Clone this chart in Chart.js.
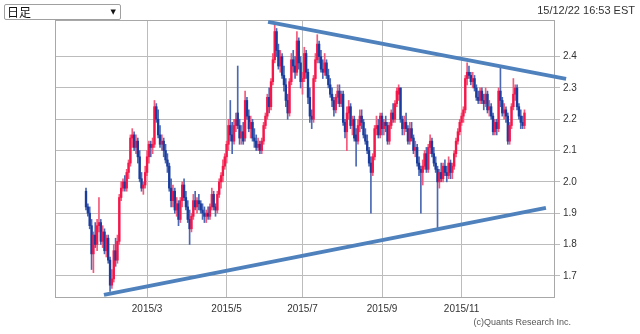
<!DOCTYPE html>
<html>
<head>
<meta charset="utf-8">
<script src="https://cdn.jsdelivr.net/npm/chart.js@4.4.0/dist/chart.umd.min.js"></script>
<style>
  html, body { margin: 0; padding: 0; background: #fff; }
  #wrap { position: relative; width: 640px; height: 334px; overflow: hidden; font-family: "Liberation Sans", Arial, sans-serif; }
  #chart { position: absolute; left: 0; top: 0; }
  .sel { position: absolute; left: 4px; top: 4px; width: 115px; height: 14px; border: 1px solid #a0a0a0; border-radius: 2px; background: #fff; }
  .sel span { position: absolute; left: 2px; top: -1px; font-family: "Noto Sans CJK JP", sans-serif; font-size: 12px; line-height: 16px; color: #111; }
  .sel i { position: absolute; right: 4px; top: 0px; font-style: normal; font-family: "DejaVu Sans", sans-serif; font-size: 7px; line-height: 14px; color: #111; }
  .stamp { position: absolute; right: 5px; top: 4px; font-size: 11px; color: #333; }
  .copy { position: absolute; right: 69px; top: 317px; font-size: 9px; color: #555; }
</style>
</head>
<body>
<div id="wrap">
  <canvas id="chart" width="640" height="334"></canvas>
  <div class="sel"><span>日足</span><i>▼</i></div>
  <div class="stamp">15/12/22 16:53 EST</div>
  <div class="copy">(c)Quants Research Inc.</div>
</div>
<script>
// daily candles, 2015-01-12 .. 2015-12-22 (index = trading day)
const open = [
  1.97,1.92,1.90,1.86,1.77,1.83,1.80,1.86,1.87,1.81,
  1.84,1.78,1.82,1.75,1.67,1.69,1.78,1.75,1.81,1.95,
  1.98,2.00,1.98,2.03,2.06,2.14,2.15,2.11,2.13,2.08,
  2.01,1.98,1.99,2.03,2.08,2.12,2.11,2.12,2.24,2.20,
  2.15,2.12,2.13,2.10,2.07,2.05,1.98,1.94,1.97,1.91,
  1.93,1.88,1.94,1.99,1.95,1.92,1.88,1.85,1.89,1.94,
  1.92,1.94,1.93,1.91,1.90,1.89,1.90,1.89,1.92,1.96,
  1.92,1.91,1.96,2.00,2.02,2.05,2.08,2.12,2.18,2.15,
  2.13,2.18,2.22,2.18,2.14,2.16,2.14,2.26,2.21,2.17,
  2.19,2.14,2.13,2.11,2.12,2.10,2.13,2.18,2.21,2.27,
  2.24,2.32,2.39,2.48,2.42,2.37,2.40,2.34,2.31,2.26,
  2.22,2.32,2.39,2.37,2.35,2.45,2.38,2.32,2.33,2.41,
  2.35,2.27,2.21,2.20,2.33,2.39,2.44,2.40,2.36,2.35,
  2.38,2.34,2.31,2.28,2.26,2.23,2.27,2.29,2.25,2.28,
  2.19,2.16,2.22,2.24,2.18,2.20,2.15,2.13,2.18,2.21,
  2.19,2.15,2.13,2.10,2.06,2.03,2.08,2.17,2.18,2.15,
  2.21,2.17,2.19,2.18,2.13,2.18,2.22,2.20,2.25,2.28,
  2.30,2.20,2.17,2.19,2.17,2.13,2.17,2.14,2.10,2.11,
  2.06,2.04,2.03,2.05,2.09,2.04,2.11,2.13,2.09,2.06,
  2.04,2.00,2.03,2.01,2.05,2.03,2.02,2.06,2.03,2.05,
  2.09,2.13,2.16,2.19,2.21,2.23,2.33,2.35,2.34,2.32,
  2.33,2.30,2.27,2.26,2.29,2.26,2.25,2.28,2.23,2.24,
  2.21,2.16,2.19,2.17,2.29,2.26,2.22,2.23,2.21,2.13,
  2.18,2.24,2.28,2.30,2.24,2.21,2.19,2.18
];
const high = [
  1.98,1.93,1.92,1.88,1.84,1.87,1.88,1.95,1.88,1.86,
  1.85,1.83,1.83,1.76,1.72,1.80,1.82,1.83,1.96,2.00,
  2.01,2.02,2.04,2.07,2.15,2.17,2.16,2.15,2.14,2.10,
  2.03,2.00,2.05,2.10,2.13,2.13,2.14,2.26,2.25,2.23,
  2.18,2.15,2.14,2.12,2.09,2.06,2.01,1.99,1.98,1.95,
  1.94,1.95,2.00,2.01,1.97,1.94,1.91,1.90,1.96,1.97,
  1.95,1.96,1.94,1.93,1.92,1.91,1.92,1.93,1.98,1.97,
  1.93,1.97,2.01,2.03,2.07,2.09,2.13,2.20,2.26,2.19,
  2.20,2.22,2.37,2.20,2.18,2.19,2.29,2.27,2.23,2.21,
  2.20,2.17,2.15,2.14,2.13,2.14,2.19,2.22,2.28,2.30,
  2.33,2.41,2.50,2.49,2.44,2.42,2.41,2.37,2.33,2.28,
  2.33,2.41,2.42,2.40,2.48,2.46,2.40,2.35,2.43,2.42,
  2.36,2.30,2.23,2.34,2.41,2.47,2.45,2.42,2.39,2.41,
  2.39,2.36,2.33,2.30,2.27,2.28,2.31,2.31,2.29,2.29,
  2.20,2.24,2.26,2.25,2.21,2.21,2.17,2.20,2.23,2.23,
  2.20,2.17,2.15,2.11,2.08,2.09,2.18,2.21,2.20,2.22,
  2.22,2.20,2.21,2.19,2.19,2.23,2.25,2.26,2.30,2.31,
  2.30,2.21,2.21,2.22,2.18,2.19,2.19,2.15,2.13,2.12,
  2.08,2.05,2.07,2.10,2.11,2.12,2.15,2.14,2.11,2.08,
  2.05,2.04,2.06,2.06,2.07,2.05,2.08,2.07,2.06,2.10,
  2.14,2.17,2.20,2.22,2.24,2.34,2.38,2.37,2.35,2.35,
  2.34,2.31,2.29,2.30,2.30,2.28,2.30,2.29,2.26,2.25,
  2.22,2.20,2.20,2.30,2.37,2.27,2.25,2.24,2.22,2.19,
  2.25,2.33,2.31,2.31,2.25,2.23,2.21,2.23
];
const low = [
  1.91,1.89,1.85,1.72,1.71,1.79,1.78,1.84,1.80,1.79,
  1.77,1.76,1.74,1.65,1.66,1.68,1.73,1.74,1.80,1.94,
  1.97,1.97,1.97,2.01,2.05,2.11,2.10,2.09,2.06,2.00,
  1.97,1.96,1.98,2.02,2.06,2.08,2.09,2.11,2.19,2.14,
  2.11,2.10,2.08,2.06,2.03,1.97,1.92,1.92,1.90,1.89,
  1.86,1.87,1.92,1.94,1.91,1.87,1.80,1.84,1.88,1.91,
  1.90,1.91,1.90,1.88,1.87,1.87,1.88,1.88,1.91,1.91,
  1.89,1.90,1.95,1.98,2.00,2.04,2.06,2.10,2.13,2.09,
  2.12,2.16,2.17,2.12,2.12,2.12,2.13,2.20,2.16,2.14,
  2.13,2.11,2.10,2.10,2.09,2.09,2.12,2.17,2.20,2.22,
  2.23,2.31,2.38,2.40,2.36,2.35,2.33,2.29,2.24,2.20,
  2.21,2.31,2.35,2.33,2.34,2.36,2.30,2.28,2.32,2.33,
  2.25,2.19,2.17,2.19,2.32,2.38,2.38,2.35,2.33,2.34,
  2.33,2.30,2.27,2.24,2.21,2.22,2.25,2.24,2.24,2.18,
  2.14,2.10,2.20,2.17,2.15,2.13,2.05,2.12,2.16,2.17,
  2.14,2.12,2.09,2.05,1.90,2.02,2.07,2.15,2.14,2.14,
  2.15,2.15,2.16,2.12,2.12,2.17,2.19,2.19,2.24,2.26,
  2.19,2.15,2.15,2.16,2.12,2.12,2.13,2.09,2.08,2.05,
  2.02,1.90,1.99,2.04,2.03,2.03,2.09,2.08,2.05,2.03,
  1.85,1.98,2.00,2.00,2.02,2.00,2.01,2.01,2.01,2.04,
  2.08,2.12,2.15,2.18,2.19,2.22,2.31,2.33,2.31,2.30,
  2.29,2.26,2.25,2.25,2.25,2.23,2.24,2.22,2.21,2.20,
  2.15,2.15,2.15,2.16,2.24,2.21,2.20,2.19,2.12,2.12,
  2.17,2.23,2.26,2.23,2.20,2.17,2.17,2.17
];
const close = [
  1.92,1.90,1.86,1.77,1.83,1.80,1.86,1.87,1.81,1.84,
  1.78,1.82,1.75,1.67,1.69,1.78,1.75,1.81,1.95,1.98,
  2.00,1.98,2.03,2.06,2.14,2.15,2.11,2.13,2.08,2.01,
  1.98,1.99,2.03,2.08,2.12,2.11,2.12,2.24,2.20,2.15,
  2.12,2.13,2.10,2.07,2.05,1.98,1.94,1.97,1.91,1.93,
  1.88,1.94,1.99,1.95,1.92,1.88,1.85,1.89,1.94,1.92,
  1.94,1.93,1.91,1.90,1.89,1.90,1.89,1.92,1.96,1.92,
  1.91,1.96,2.00,2.02,2.05,2.08,2.12,2.18,2.15,2.13,
  2.18,2.20,2.18,2.14,2.16,2.13,2.26,2.21,2.17,2.19,
  2.14,2.13,2.11,2.12,2.10,2.13,2.18,2.21,2.27,2.24,
  2.32,2.39,2.48,2.42,2.37,2.40,2.34,2.31,2.26,2.22,
  2.32,2.39,2.37,2.35,2.45,2.38,2.32,2.33,2.41,2.35,
  2.27,2.21,2.20,2.33,2.39,2.44,2.40,2.36,2.35,2.38,
  2.34,2.31,2.28,2.26,2.23,2.27,2.29,2.25,2.28,2.19,
  2.16,2.22,2.24,2.18,2.20,2.14,2.13,2.18,2.21,2.19,
  2.15,2.13,2.10,2.06,2.03,2.08,2.17,2.18,2.15,2.21,
  2.17,2.19,2.18,2.13,2.18,2.22,2.20,2.25,2.29,2.30,
  2.20,2.17,2.19,2.17,2.13,2.17,2.14,2.10,2.11,2.06,
  2.04,2.03,2.05,2.09,2.04,2.11,2.13,2.09,2.06,2.04,
  2.00,2.03,2.01,2.05,2.03,2.02,2.06,2.03,2.05,2.09,
  2.13,2.16,2.19,2.21,2.23,2.33,2.35,2.34,2.32,2.33,
  2.30,2.27,2.26,2.29,2.26,2.25,2.28,2.23,2.24,2.21,
  2.16,2.19,2.17,2.29,2.26,2.22,2.23,2.21,2.13,2.18,
  2.24,2.28,2.30,2.24,2.21,2.19,2.18,2.22
];

// month gridlines (trading-day index of first session) and their labels
const monthTicks = [33, 76, 117, 160, 203];
const monthLabels = ['2015/3', '2015/5', '2015/7', '2015/9', '2015/11'];
const yTicks = [1.7, 1.8, 1.9, 2.0, 2.1, 2.2, 2.3, 2.4];

// hand-drawn trendlines: [start, end] in (day index, yield)
const upperTrendX = [98.4, 259.5];
const upperTrendY = [2.511, 2.329];
const lowerTrendX = [9.7, 248.6];
const lowerTrendY = [1.639, 1.917];

const upColor = '#f5164a';
const downColor = '#1a3c9c';
const upWick = '#f4587a';
const downWick = '#4a68b4';
const trendColor = '#4f81bd';

const isUp = i => close[i] >= open[i];
const bodyColor = c => isUp(c.dataIndex) ? upColor : downColor;
const wickColor = c => isUp(c.dataIndex) ? upWick : downWick;

// draws the box around the plot area
const framePlugin = {
  id: 'frame',
  beforeDatasetsDraw(chart) {
    const { ctx, chartArea: a } = chart;
    ctx.save();
    ctx.strokeStyle = '#a8a8a8';
    ctx.lineWidth = 1;
    ctx.strokeRect(a.left + 0.5, a.top + 0.5, a.width - 1, a.height - 1);
    ctx.restore();
  }
};

const tickFont = { family: '"Liberation Sans", Arial, sans-serif', size: 10 };

new Chart(document.getElementById('chart').getContext('2d'), {
  type: 'bar',
  data: {
    datasets: [
      {
        label: 'wick',
        data: close.map((_, i) => ({ x: i, y: [low[i], high[i]] })),
        backgroundColor: wickColor,
        barThickness: 1,
        grouped: false,
        order: 3
      },
      {
        label: 'body',
        data: close.map((_, i) => ({ x: i, y: [open[i], close[i]] })),
        backgroundColor: bodyColor,
        barThickness: 1.7,
        minBarLength: 1,
        grouped: false,
        order: 2
      },
      {
        type: 'line',
        data: upperTrendX.map((x, i) => ({ x, y: upperTrendY[i] })),
        borderColor: trendColor,
        borderWidth: 4,
        pointRadius: 0,
        clip: false,
        order: 1
      },
      {
        type: 'line',
        data: lowerTrendX.map((x, i) => ({ x, y: lowerTrendY[i] })),
        borderColor: trendColor,
        borderWidth: 4,
        pointRadius: 0,
        clip: false,
        order: 1
      }
    ]
  },
  options: {
    responsive: false,
    animation: false,
    devicePixelRatio: 1,
    layout: { padding: { left: 55, top: 20, right: 0, bottom: 0 } },
    plugins: {
      legend: { display: false },
      tooltip: { enabled: false }
    },
    scales: {
      x: {
        type: 'linear',
        min: -16.76,
        max: 253.5,
        offset: false,
        grid: { offset: false, color: '#bcbcbc', drawTicks: false },
        border: { display: false },
        ticks: {
          padding: 5,
          color: '#333',
          font: tickFont,
          maxRotation: 0,
          autoSkip: false,
          callback: (v, i) => monthLabels[i]
        },
        afterBuildTicks: s => { s.ticks = monthTicks.map(v => ({ value: v })); },
        afterFit: s => { s.height = 36; }
      },
      y: {
        position: 'right',
        min: 1.629,
        max: 2.517,
        grid: { color: '#bcbcbc', tickLength: 5 },
        border: { display: false },
        ticks: {
          padding: 3,
          color: '#333',
          font: tickFont,
          callback: v => v.toFixed(1)
        },
        afterBuildTicks: s => { s.ticks = yTicks.map(v => ({ value: v })); },
        afterFit: s => { s.width = 85; }
      }
    }
  },
  plugins: [framePlugin]
});
</script>
</body>
</html>
